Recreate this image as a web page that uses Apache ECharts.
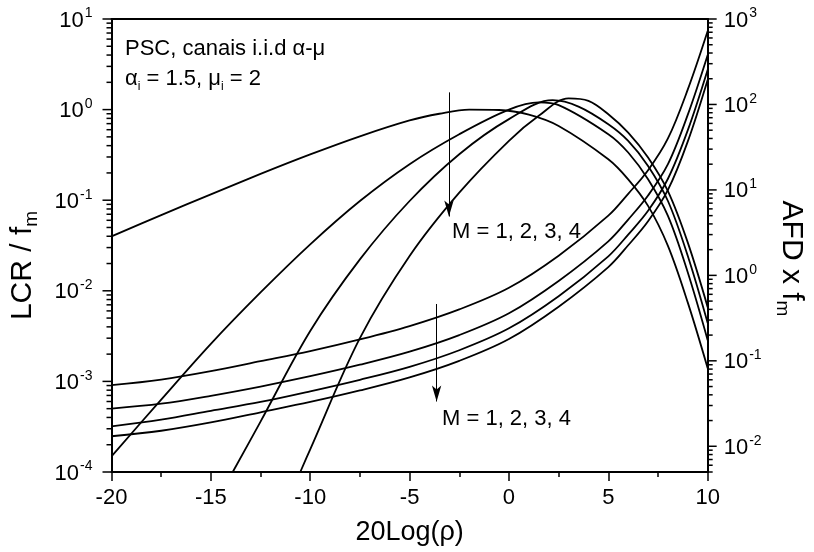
<!DOCTYPE html>
<html><head><meta charset="utf-8">
<script src="https://cdn.jsdelivr.net/npm/echarts@6/dist/echarts.min.js"></script>
<style>html,body{margin:0;padding:0;background:#fff}#c{width:814px;height:552px}</style>
</head><body><div id="c"></div>
<script>
// ---------- data ----------
const xTicks = [-20, -15, -10, -5, 0, 5, 10];
const leftDecades = [1e-4, 1e-3, 1e-2, 1e-1, 1, 10];
const rightDecades = [1e-2, 1e-1, 1, 10, 100, 1000];
const minorMultipliers = [2, 3, 4, 5, 6, 7, 8, 9];

// LCR / fm (left axis)
const lcrX1 = [-20, -17.5, -15, -12.5, -10, -7.5, -5, -3.5, -2, -0.5, 1, 2.5, 5, 6, 7, 8, 9, 10];
const lcrM1 = [0.0398, 0.0684, 0.116, 0.195, 0.32, 0.507, 0.759, 0.9, 1.0, 0.99, 0.88, 0.66, 0.283, 0.170, 0.0865, 0.0313, 0.0074, 0.0014];
const lcrX2 = [-20, -17.5, -15, -12.5, -10, -7.5, -5, -2.5, 0, 1.5, 2.5, 5, 6, 7, 8, 9, 10];
const lcrM2 = [1.49e-4, 6.3e-4, 2.6e-3, 9.6e-3, 0.0326, 0.098, 0.25, 0.535, 1.0, 1.2, 1.12, 0.535, 0.336, 0.170, 0.067, 0.0159, 0.00285];
const lcrX3 = [-13.9, -12.5, -10, -7.5, -5, -2.5, 0, 2.2, 3.5, 5, 6, 7, 8, 9, 10];
const lcrM3 = [1e-4, 3.6e-4, 3.6e-3, 0.0222, 0.098, 0.322, 0.785, 1.27, 1.08, 0.69, 0.452, 0.239, 0.098, 0.0242, 0.0044];
const lcrX4 = [-10.5, -10, -7.5, -5, -2.5, 0, 1.5, 3, 4, 5, 6, 7, 8, 9, 10];
const lcrM4 = [1e-4, 1.78e-4, 3.0e-3, 0.0242, 0.121, 0.452, 0.853, 1.33, 1.25, 0.89, 0.558, 0.296, 0.126, 0.034, 0.0066];

// AFD x fm (right axis)
const afdX = [-20, -17.5, -15, -12.5, -10, -7.5, -5, -2.5, 0, 2.5, 5, 6, 7, 8, 9, 10];
const afdM1 = [0.0519, 0.0604, 0.0757, 0.099, 0.130, 0.178, 0.255, 0.40, 0.716, 1.7, 5.0, 9.0, 17, 40, 150, 724];
const afdM2 = [0.0276, 0.0315, 0.039, 0.05, 0.066, 0.09, 0.128, 0.2, 0.36, 0.86, 2.5, 4.5, 8.6, 20, 76, 380];
const afdM3 = [0.0171, 0.0205, 0.026, 0.033, 0.044, 0.06, 0.085, 0.133, 0.24, 0.57, 1.67, 3.0, 5.7, 13.5, 50, 255];
const afdM4 = [0.0131, 0.0152, 0.019, 0.025, 0.033, 0.045, 0.064, 0.1, 0.18, 0.43, 1.25, 2.25, 4.3, 10, 37, 195];

// arrows (data coordinates on the left axis)
const arrowUpper = { x: -3.02, from: 1.55, to: 0.066 };
const arrowLower = { x: -3.64, from: 7.15e-3, to: 6.0e-4 };

// ---------- chart ----------
const X_MIN = -20, X_MAX = 10;
const L_MIN = 1e-4, L_MAX = 10;
const R_MIN = 0.005, R_MAX = 1000;
const FONT = 'Liberation Sans, Arial, sans-serif';
const BLACK = '#000';

function zip(xs, ys) { return xs.map((x, i) => [x, ys[i]]); }

function supLabel(v) {
  const e = Math.log10(v), r = Math.round(e);
  if (Math.abs(e - r) > 1e-6) return '';
  return '{b|10}{s|' + r + '}';
}
const supRich = {
  b: { fontSize: 22, fontFamily: FONT, color: BLACK, lineHeight: 25, verticalAlign: 'bottom' },
  s: { fontSize: 14, fontFamily: FONT, color: BLACK, lineHeight: 14, verticalAlign: 'top', padding: [0, 0, 0, 1] }
};

function buildTicks(decades, lo, hi, xPos) {
  const out = [];
  const all = [decades[0] / 10].concat(decades);
  all.forEach((d, k) => {
    if (k > 0 && d >= lo * 0.999 && d <= hi * 1.001) out.push([xPos, d, 1]);
    minorMultipliers.forEach(m => {
      const v = d * m;
      if (v >= lo * 0.999 && v <= hi * 1.001) out.push([xPos, v, 0]);
    });
  });
  return out;
}
const leftTicks = buildTicks(leftDecades, L_MIN, L_MAX, X_MIN);
const rightTicks = buildTicks(rightDecades, R_MIN, R_MAX, X_MAX);

function tickRenderer(dir) {
  return function (params, api) {
    const p = api.coord([api.value(0), api.value(1)]);
    const len = api.value(2) ? 9 : 5;
    return {
      type: 'line',
      shape: { x1: p[0], y1: p[1], x2: p[0] + dir * len, y2: p[1] },
      style: { stroke: BLACK, lineWidth: 1.5 }
    };
  };
}

function curve(name, xs, ys, yAxisIndex, extra) {
  return Object.assign({
    name: name, type: 'line', xAxisIndex: 0, yAxisIndex: yAxisIndex,
    data: zip(xs, ys), smooth: 0.35, symbol: 'none', clip: true,
    lineStyle: { color: BLACK, width: 1.8 }, silent: true
  }, extra || {});
}

const arrowStyle = {
  symbol: ['none', 'arrow'], symbolSize: [7, 16], silent: true,
  lineStyle: { color: BLACK, width: 1, type: 'solid' }, label: { show: false }
};

const chart = echarts.init(document.getElementById('c'), null, { renderer: 'canvas' });
chart.setOption({
  animation: false,
  backgroundColor: '#fff',
  textStyle: { fontFamily: FONT },
  grid: { left: 109, top: 19, width: 613, height: 453, show: false },
  xAxis: [{
    type: 'value', min: X_MIN, max: X_MAX, interval: 5, position: 'bottom',
    axisLine: { show: true, onZero: false, lineStyle: { color: BLACK, width: 2 } },
    axisTick: { show: true, inside: false, length: 9, lineStyle: { color: BLACK, width: 1.5 } },
    minorTick: { show: true, splitNumber: 2, length: 5, lineStyle: { color: BLACK, width: 1.5 } },
    splitLine: { show: false },
    axisLabel: { color: BLACK, fontSize: 22, fontFamily: FONT, margin: 15 },
    name: '20Log(ρ)', nameLocation: 'middle', nameGap: 47,
    nameTextStyle: { color: BLACK, fontSize: 27, fontFamily: FONT }
  }, {
    type: 'value', min: X_MIN, max: X_MAX, interval: 5, position: 'top',
    axisLine: { show: true, onZero: false, lineStyle: { color: BLACK, width: 2 } },
    axisTick: { show: false }, axisLabel: { show: false }, splitLine: { show: false }
  }],
  yAxis: [{
    type: 'log', logBase: 10, min: L_MIN, max: L_MAX, position: 'left',
    axisLine: { show: true, onZero: false, lineStyle: { color: BLACK, width: 2 } },
    axisTick: { show: false }, splitLine: { show: false },
    axisLabel: { formatter: supLabel, rich: supRich, margin: 19 },
    name: 'LCR / f{m|m}', nameLocation: 'middle', nameGap: 70, nameRotate: 90,
    nameTextStyle: {
      color: BLACK, fontSize: 30, fontFamily: FONT, padding: [0, 40, 0, 0],
      rich: { m: { fontSize: 19, fontFamily: FONT, color: BLACK, verticalAlign: 'top', padding: [18, 0, 0, 0] } }
    }
  }, {
    type: 'log', logBase: 10, min: R_MIN, max: R_MAX, position: 'right',
    axisLine: { show: true, onZero: false, lineStyle: { color: BLACK, width: 2 } },
    axisTick: { show: false }, splitLine: { show: false },
    axisLabel: { formatter: supLabel, rich: supRich, margin: 16 },
    name: 'AFD x f{m|m}', nameLocation: 'middle', nameGap: 64, nameRotate: -90,
    nameTextStyle: {
      color: BLACK, fontSize: 30, fontFamily: FONT, padding: [0, 0, 0, 26],
      rich: { m: { fontSize: 19, fontFamily: FONT, color: BLACK, verticalAlign: 'top', padding: [18, 0, 0, 0] } }
    }
  }],
  series: [
    curve('LCR M=1', lcrX1, lcrM1, 0, {
      markLine: Object.assign({
        data: [
          [{ coord: [arrowUpper.x, arrowUpper.from] }, { coord: [arrowUpper.x, arrowUpper.to] }],
          [{ coord: [arrowLower.x, arrowLower.from] }, { coord: [arrowLower.x, arrowLower.to] }]
        ]
      }, arrowStyle)
    }),
    curve('LCR M=2', lcrX2, lcrM2, 0),
    curve('LCR M=3', lcrX3, lcrM3, 0),
    curve('LCR M=4', lcrX4, lcrM4, 0),
    curve('AFD M=1', afdX, afdM1, 1),
    curve('AFD M=2', afdX, afdM2, 1),
    curve('AFD M=3', afdX, afdM3, 1),
    curve('AFD M=4', afdX, afdM4, 1),
    { type: 'custom', xAxisIndex: 0, yAxisIndex: 0, data: leftTicks, renderItem: tickRenderer(-1), clip: false, silent: true },
    { type: 'custom', xAxisIndex: 0, yAxisIndex: 1, data: rightTicks, renderItem: tickRenderer(1), clip: false, silent: true }
  ],
  graphic: [
    { type: 'text', left: 125, top: 38, silent: true,
      style: { text: 'PSC, canais i.i.d α-μ', fontSize: 22, fontFamily: FONT, fill: BLACK } },
    { type: 'text', left: 125, top: 68, silent: true,
      style: { text: 'α{i|i} = 1.5, μ{i|i} = 2', fontSize: 22, fontFamily: FONT, fill: BLACK,
        rich: { i: { fontSize: 12, fontFamily: FONT, fill: BLACK, verticalAlign: 'top', padding: [15, 0, 0, 0] } } } },
    { type: 'text', left: 452, top: 221, silent: true,
      style: { text: 'M = 1, 2, 3, 4', fontSize: 22, fontFamily: FONT, fill: BLACK } },
    { type: 'text', left: 442, top: 408, silent: true,
      style: { text: 'M = 1, 2, 3, 4', fontSize: 22, fontFamily: FONT, fill: BLACK } }
  ]
});
</script></body></html>
